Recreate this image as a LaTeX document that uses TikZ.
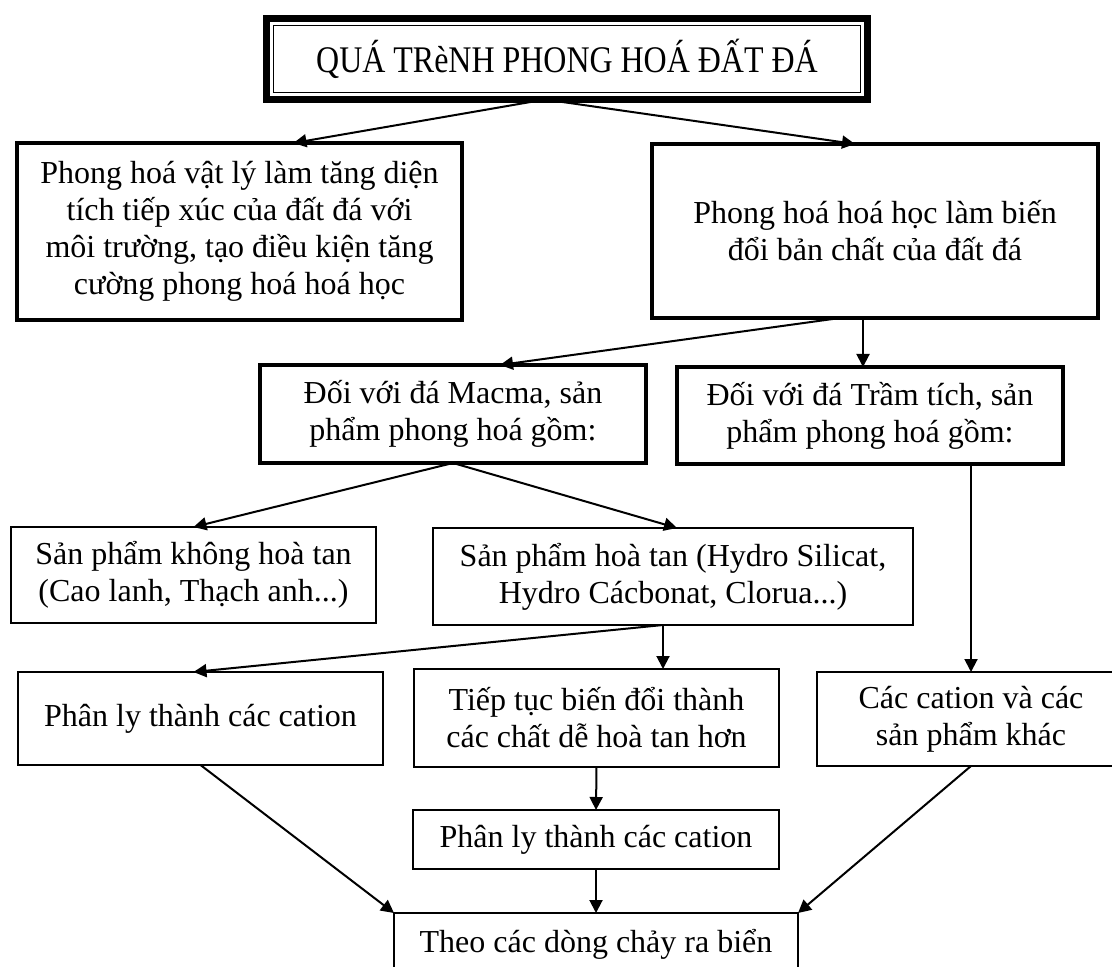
\documentclass[tikz,border=0pt]{standalone}
\usepackage{fontspec}
\setmainfont{Liberation Serif}
\newfontfamily\titlefont{Liberation Serif}[FakeStretch=0.85]
\usetikzlibrary{arrows.meta,calc,positioning}

\begin{document}
\begin{tikzpicture}[x=0.5pt, y=-0.5pt,
every node/.style={font=\fontsize{16}{18.5}\selectfont, align=center, inner sep=0pt, outer sep=0pt},
boldbox/.style={draw, line width=1.8pt},
thinbox/.style={draw, line width=1pt},
flow/.style={-{Triangle[length=6.5pt,width=6.5pt]}, line width=1pt}]
\useasboundingbox (0,0) rectangle (1112,967);

\node[draw, line width=3.5pt, minimum width=300.5pt, minimum height=40.5pt, font=\titlefont\fontsize{18.8}{20}\selectfont] (title) at (567,59) {QUÁ TRèNH PHONG HOÁ ĐẤT ĐÁ};
\draw[line width=0.75pt] ($(title.north west)+(3.5pt,-3.5pt)$) rectangle ($(title.south east)+(-3.5pt,3.5pt)$);

\node[boldbox, minimum width=222.5pt, minimum height=88.5pt] (vatly) at (239.5,231.5) {Phong hoá vật lý làm tăng diện\\ tích tiếp xúc của đất đá với\\ môi trường, tạo điều kiện tăng\\ cường phong hoá hoá học};
\node[boldbox, minimum width=223pt, minimum height=87pt] (hoahoc) at (875,231) {Phong hoá hoá học làm biến\\ đổi bản chất của đất đá};
\node[boldbox, minimum width=193pt, minimum height=49pt] (macma) at (453,414) {Đối với đá Macma, sản\\ phẩm phong hoá gồm:};
\node[boldbox, minimum width=193pt, minimum height=48.5pt] (tramtich) at (870,415.5) {Đối với đá Trầm tích, sản\\ phẩm phong hoá gồm:};

\node[thinbox, minimum width=182.5pt, minimum height=48pt] (khongtan) at (193.5,575) {Sản phẩm không hoà tan\\ (Cao lanh, Thạch anh...)};
\node[thinbox, minimum width=240pt, minimum height=48.5pt] (hoatan) at (673,576.5) {Sản phẩm hoà tan (Hydro Silicat,\\ Hydro Cácbonat, Clorua...)};
\node[thinbox, minimum width=182.5pt, minimum height=46.5pt] (phanly) at (200.5,718.5) {Phân ly thành các cation};
\node[thinbox, minimum width=182.5pt, minimum height=49pt] (tieptuc) at (596.5,718) {Tiếp tục biến đổi thành\\ các chất dễ hoà tan hơn};
\node[thinbox, minimum width=154pt, minimum height=47pt] (cation) at (971,719) {Các cation và các\\ sản phẩm khác};
\node[thinbox, minimum width=183pt, minimum height=29.5pt] (phanlyhai) at (596,839.5) {Phân ly thành các cation};
\node[thinbox, minimum width=202pt, minimum height=31pt] (bien) at (596,944) {Theo các dòng chảy ra biển};

% mui ten
\draw[flow] ([xshift=-11pt]title.south) -- ([xshift=27pt]vatly.north);
\draw[flow] ([xshift=-11pt]title.south) -- ([xshift=-10pt]hoahoc.north);
\draw[flow] ([xshift=-17.5pt]hoahoc.south) -- ([xshift=23.5pt]macma.north);
\draw[flow] ([xshift=-6pt]hoahoc.south) -- ([xshift=-3.5pt]tramtich.north);
\draw[flow] (macma.south) -- (khongtan.north);
\draw[flow] (macma.south) -- ([xshift=2pt]hoatan.north);
\draw[flow] ([xshift=-5pt]hoatan.south) -- ([xshift=-3.5pt]phanly.north);
\draw[flow] ([xshift=-5pt]hoatan.south) -- ([xshift=33.25pt]tieptuc.north);
\draw[flow] ([xshift=50.5pt]tramtich.south) -- (cation.north);
\draw[flow] (tieptuc.south) -- (phanlyhai.north);
\draw[flow] (phanlyhai.south) -- (bien.north);
\draw[flow] (phanly.south) -- (bien.north west);
\draw[flow] (cation.south) -- (bien.north east);
\end{tikzpicture}
\end{document}
